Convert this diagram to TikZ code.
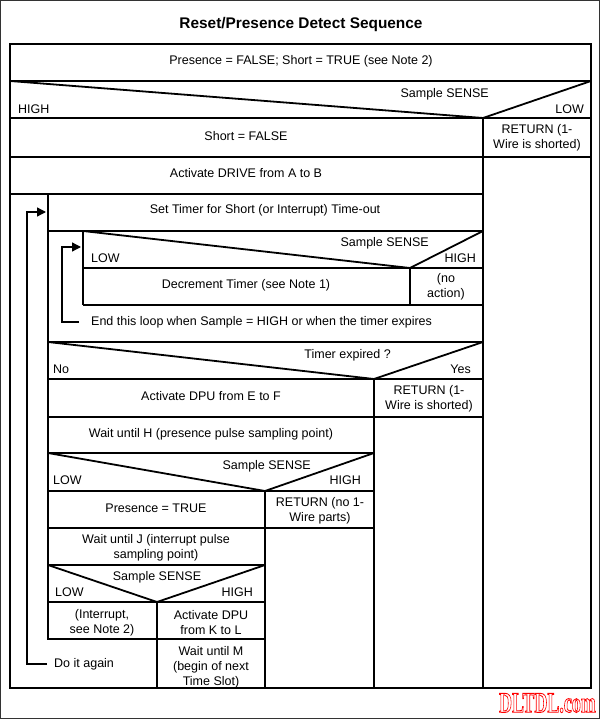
\documentclass[tikz,border=0pt]{standalone}
\usepackage{fontspec}
\setmainfont{Liberation Sans}
\newfontfamily\wmfont{Liberation Serif}
\usetikzlibrary{arrows.meta}
\newcommand\myoutline[1]{\special{pdf:literal direct 1 Tr 0.9 w 1 0 0 RG}#1\special{pdf:literal direct 0 Tr}}
\begin{document}
\begin{tikzpicture}[x=1pt,y=-1pt,
  ln/.style={line width=1.3pt},
  dg/.style={line width=1.8pt},
  txt/.style={font=\fontsize{12.5}{15}\selectfont, align=center, inner sep=0pt},
  lbl/.style={font=\fontsize{12.5}{15}\selectfont, inner sep=0pt},
  looparrow/.style={line width=1.3pt, -{Triangle[length=9pt,width=9pt]}},
]
\useasboundingbox (0,0) rectangle (600,719);
\draw[line width=0.9pt, black!80] (0.5,0.5) rectangle (599.5,718.5);
\node[font=\bfseries\fontsize{15.4}{18}\selectfont, inner sep=0pt] (title) at (301,25) {Reset/Presence Detect Sequence};

% ---- structure lines
\draw[ln] (10,44) rectangle (591,688);
\draw[ln] (10,81) -- (591,81);
\draw[dg] (10,81) -- (483,118) -- (591,81);
\draw[ln] (10,118) -- (591,118);
\draw[ln] (483,118) -- (483,688);
\draw[ln] (10,157) -- (591,157);
\draw[ln] (10,194) -- (483,194);
\draw[ln] (48,194) -- (48,640);
\draw[ln] (48,231) -- (483,231);
\draw[ln] (83,231) -- (83,305);
\draw[dg] (83,231) -- (410,268) -- (483,231);
\draw[ln] (83,268) -- (483,268);
\draw[ln] (410,268) -- (410,305);
\draw[ln] (83,305) -- (483,305);
\draw[ln] (48,342) -- (483,342);
\draw[dg] (48,342) -- (374,379) -- (483,342);
\draw[ln] (48,379) -- (483,379);
\draw[ln] (374,379) -- (374,688);
\draw[ln] (48,417) -- (483,417);
\draw[ln] (48,453) -- (374,453);
\draw[dg] (48,453) -- (265,491) -- (374,453);
\draw[ln] (48,491) -- (374,491);
\draw[ln] (265,491) -- (265,688);
\draw[ln] (48,528) -- (374,528);
\draw[ln] (48,565) -- (265,565);
\draw[dg] (48,565) -- (157,602) -- (265,565);
\draw[ln] (48,602) -- (265,602);
\draw[ln] (157,602) -- (157,688);
\draw[ln] (48,639) -- (265,639);

% ---- texts
\node[txt] (pres) at (301,61) {Presence = FALSE; Short = TRUE (see Note 2)};
\node[lbl, anchor=east] (ss1) at (489,94) {Sample SENSE};
\node[lbl, anchor=west] (high1) at (18,109) {HIGH};
\node[lbl, anchor=east] (low1) at (584,109) {LOW};
\node[txt] (short) at (246,136) {Short = FALSE};
\node[txt] (ret1) at (537,138) {RETURN (1-\\Wire is shorted)};
\node[txt] (drive) at (246,173) {Activate DRIVE from A to B};
\node[txt] (settimer) at (265,210) {Set Timer for Short (or Interrupt) Time-out};
\node[lbl, anchor=east] (ss2) at (429,243) {Sample SENSE};
\node[lbl, anchor=west] (low2) at (91,258) {LOW};
\node[lbl, anchor=east] (high2) at (476,258) {HIGH};
\node[txt] (dec) at (246,285) {Decrement Timer (see Note 1)};
\node[txt] (noact) at (446,287) {(no\\action)};
\node[lbl, anchor=west] (endloop) at (91,322) {End this loop when Sample = HIGH or when the timer expires};
\node[lbl, anchor=east] (texp) at (391,355) {Timer expired ?};
\node[lbl, anchor=west] (no) at (53,369) {No};
\node[lbl, anchor=east] (yes) at (471,369) {Yes};
\node[txt] (dpu1) at (211,396) {Activate DPU from E to F};
\node[txt] (ret2) at (429,399) {RETURN (1-\\Wire is shorted)};
\node[txt] (waith) at (211,434) {Wait until H (presence pulse sampling point)};
\node[lbl, anchor=east] (ss3) at (311,466) {Sample SENSE};
\node[lbl, anchor=west] (low3) at (53,480) {LOW};
\node[lbl, anchor=east] (high3) at (361,480) {HIGH};
\node[txt] (prest) at (156,508) {Presence = TRUE};
\node[txt] (ret3) at (320,511) {RETURN (no 1-\\Wire parts)};
\node[txt] (waitj) at (156,548) {Wait until J (interrupt pulse\\sampling point)};
\node[lbl] (ss4) at (157,577) {Sample SENSE};
\node[lbl, anchor=west] (low4) at (55,592) {LOW};
\node[lbl, anchor=east] (high4) at (253,592) {HIGH};
\node[txt] (intr) at (102,623) {(Interrupt,\\see Note 2)};
\node[txt] (dpu2) at (211,623) {Activate DPU\\from K to L};
\node[txt] (waitm) at (211,667) {Wait until M\\(begin of next\\Time Slot)};
\node[lbl, anchor=west] (again) at (54,664) {Do it again};

% ---- loop arrows
\coordinate (i1) at (79,322);
\coordinate (i2) at (62,322);
\coordinate (i3) at (62,247);
\coordinate (i4) at (81,247);
\draw[looparrow] (i1) -- (i2) -- (i3) -- (i4);
\coordinate (o1) at (47,664);
\coordinate (o2) at (27,664);
\coordinate (o3) at (27,212);
\coordinate (o4) at (46,212);
\draw[looparrow] (o1) -- (o2) -- (o3) -- (o4);

% ---- watermark
\node[font=\wmfont\bfseries\fontsize{29}{30}\selectfont, text=red, inner sep=0pt, anchor=east] (wm) at (596,703) {\scalebox{0.62}[1]{\myoutline{DLTDL.com}}};
\end{tikzpicture}
\end{document}
